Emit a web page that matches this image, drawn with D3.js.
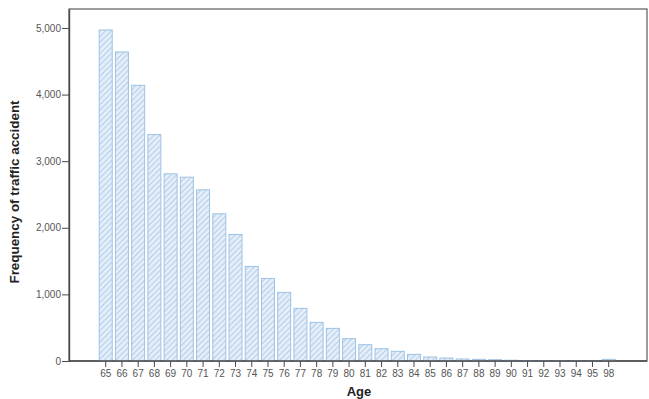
<!DOCTYPE html>
<html>
<head>
<meta charset="utf-8">
<script src="https://cdn.jsdelivr.net/npm/d3@7"></script>
<style>
  body { margin: 0; background: #fff; }
  svg { display: block; font-family: "Liberation Sans", Arial, sans-serif; }
</style>
</head>
<body>
<div id="chart"></div>
<script>
// ages shown on the x axis (96, 97 have no records)
const ages = ["65","66","67","68","69","70","71","72","73","74","75","76","77","78","79","80",
              "81","82","83","84","85","86","87","88","89","90","91","92","93","94","95","98"];
const counts = [4970, 4640, 4140, 3400, 2810, 2760, 2570, 2210, 1900, 1420, 1240, 1030, 790, 580, 490, 335,
                245, 185, 145, 100, 60, 45, 30, 25, 20, 12, 8, 5, 4, 3, 3, 25];
const yTicks = [0, 1000, 2000, 3000, 4000, 5000];

const width = 649, height = 399;
const frame = {left: 69, top: 9, right: 647, bottom: 361};

const svg = d3.select("#chart").append("svg")
    .attr("width", width)
    .attr("height", height);

// hatch pattern for the bars
const pat = svg.append("defs").append("pattern")
    .attr("id", "hatch")
    .attr("patternUnits", "userSpaceOnUse")
    .attr("width", 4)
    .attr("height", 4)
    .attr("patternTransform", "rotate(45)");
pat.append("rect").attr("width", 4).attr("height", 4).attr("fill", "#e4eef8");
pat.append("line")
    .attr("x1", 0).attr("y1", 0).attr("x2", 0).attr("y2", 4)
    .attr("stroke", "#a9c7e6")
    .attr("stroke-width", 1.6);

const x = d3.scaleBand()
    .domain(ages)
    .range([97.6, 616.8])
    .paddingInner(0.2)
    .paddingOuter(0.1);

const y = d3.scaleLinear()
    .domain([0, 5285])
    .range([frame.bottom, frame.top]);

// frame
svg.append("rect")
    .attr("x", frame.left)
    .attr("y", frame.top)
    .attr("width", frame.right - frame.left)
    .attr("height", frame.bottom - frame.top)
    .attr("fill", "none")
    .attr("stroke", "#5a5a5a")
    .attr("stroke-width", 1.2);

// bars
svg.append("g").selectAll("rect")
    .data(ages)
    .enter().append("rect")
    .attr("x", d => x(d))
    .attr("y", (d, i) => y(counts[i]))
    .attr("width", x.bandwidth())
    .attr("height", (d, i) => frame.bottom - y(counts[i]))
    .attr("fill", "url(#hatch)")
    .attr("stroke", "#9fc1e4")
    .attr("stroke-width", 1);

// y axis
const yAxis = svg.append("g")
    .attr("transform", `translate(${frame.left},0)`)
    .call(d3.axisLeft(y).tickValues(yTicks).tickFormat(d3.format(",")).tickSize(7).tickSizeOuter(0));
yAxis.select(".domain").attr("stroke", "#4a4a4a").attr("stroke-width", 1.4);
yAxis.selectAll(".tick line").attr("stroke", "#4a4a4a");
yAxis.selectAll("text")
    .attr("x", -8)
    .attr("fill", "#555")
    .style("font-size", "10px");

// x axis
const xAxis = svg.append("g")
    .attr("transform", `translate(0,${frame.bottom})`)
    .call(d3.axisBottom(x).tickSize(6).tickSizeOuter(0));
xAxis.select(".domain").remove();
xAxis.append("line")
    .attr("x1", frame.left).attr("x2", frame.right)
    .attr("stroke", "#4a4a4a").attr("stroke-width", 1.4);
xAxis.selectAll(".tick line").attr("stroke", "#4a4a4a");
xAxis.selectAll("text")
    .attr("y", 9)
    .attr("fill", "#555")
    .style("font-size", "10px");

// axis titles
svg.append("text")
    .attr("x", (frame.left + frame.right) / 2 + 1)
    .attr("y", 396)
    .attr("text-anchor", "middle")
    .style("font-size", "13px")
    .style("font-weight", "bold")
    .attr("fill", "#222")
    .text("Age");

svg.append("text")
    .attr("transform", `translate(19,${(frame.top + frame.bottom) / 2 + 7}) rotate(-90)`)
    .attr("text-anchor", "middle")
    .style("font-size", "13.4px")
    .style("font-weight", "bold")
    .attr("fill", "#222")
    .text("Frequency of traffic accident");
</script>
</body>
</html>
